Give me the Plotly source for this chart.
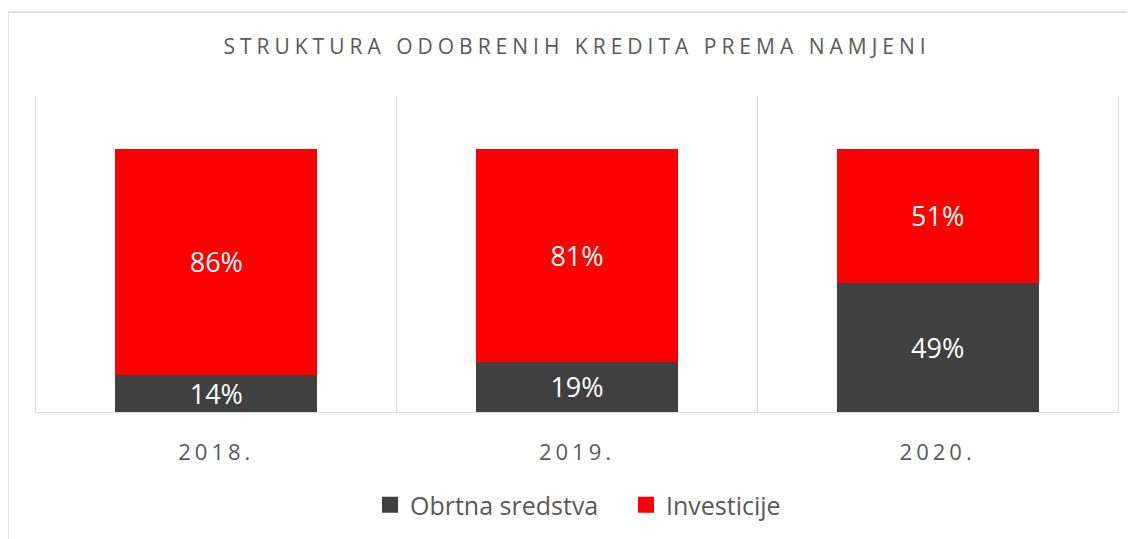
import plotly.graph_objects as go

categories = ["2018.", "2019.", "2020."]
obrtna = [0.14, 0.19, 0.49]
investicije = [0.86, 0.81, 0.51]
series_names = ["Obrtna sredstva", "Investicije"]
title_text = "STRUKTURA ODOBRENIH KREDITA PREMA NAMJENI"

dark = "#404040"
red = "#ff0000"
gray = "#595959"
line_gray = "#d9d9d9"
font_family = "Open Sans, Noto Sans, sans-serif"

# page body has an 8px margin; figure sized to fill the remaining window
W, H = 1127, 531
OFF = 8
plot_l, plot_r, plot_t, plot_b = 36 - OFF, 1118 - OFF, 96 - OFF, 413 - OFF
plot_w, plot_h = plot_r - plot_l, plot_b - plot_t

def pct(v):
    return [f"{round(x * 100)}%" for x in v]

fig = go.Figure()
for name, vals, col in [(series_names[0], obrtna, dark), (series_names[1], investicije, red)]:
    fig.add_trace(go.Bar(
        x=categories, y=vals, name=name, marker=dict(color=col, line=dict(width=0)),
        text=pct(vals), textposition="inside", insidetextanchor="middle",
        constraintext="none",
        textfont=dict(color="white", size=27, family=font_family),
        showlegend=False, hoverinfo="skip",
    ))
    # legend-only entry with a larger square marker
    fig.add_trace(go.Scatter(
        x=[None], y=[None], mode="markers", name=name,
        marker=dict(symbol="square", size=16, color=col),
        showlegend=True,
    ))

fig.update_layout(
    width=W, height=H,
    margin=dict(l=plot_l, r=W - plot_r, t=plot_t, b=H - plot_b),
    paper_bgcolor="white", plot_bgcolor="white",
    barmode="stack", bargap=0.44,
    title=dict(
        text=f'<span style="letter-spacing:5px">{title_text}</span>',
        x=0.5, xref="paper", xanchor="center",
        y=1 - (47 - OFF) / H, yref="container", yanchor="middle",
        font=dict(size=21, color=gray, family=font_family),
    ),
    xaxis=dict(
        type="category",
        tickmode="array", tickvals=categories,
        ticktext=[f'<span style="letter-spacing:4px">{c}</span>' for c in categories],
        tickson="boundaries", ticks="",
        showgrid=True, gridcolor=line_gray, gridwidth=1.3,
        showline=True, linecolor=line_gray, linewidth=1.3,
        tickfont=dict(size=22, color=gray, family=font_family),
        ticklabelstandoff=20,
        range=[-0.5, 2.5],
    ),
    yaxis=dict(
        range=[0, 1.2], showgrid=False, zeroline=False,
        showticklabels=False, ticks="",
        showline=True, mirror=True, linecolor=line_gray, linewidth=1.3,
    ),
    legend=dict(
        orientation="h", x=(370 - 36) / plot_w, xanchor="left",
        y=-(505 - 413) / plot_h, yanchor="middle",
        font=dict(size=25, color=gray, family=font_family),
        itemwidth=30, tracegroupgap=0, traceorder="normal",
        entrywidth=211, entrywidthmode="pixels",
    ),
    shapes=[dict(
        type="rect", xref="paper", yref="paper",
        x0=(8 - 36) / plot_w, x1=1.2, y0=-1.0, y1=(413 - 12) / plot_h,
        line=dict(color=line_gray, width=1.5), fillcolor="rgba(0,0,0,0)", layer="below",
    )],
)

fig.write_html("out.html")
